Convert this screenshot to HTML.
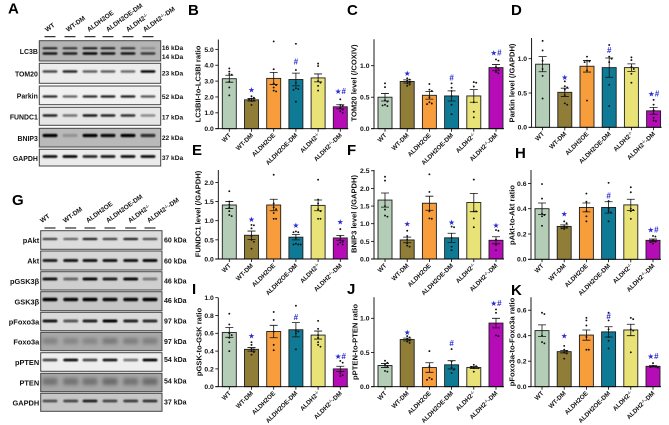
<!DOCTYPE html>
<html lang="en">
<head>
<meta charset="utf-8">
<title>Western blots and quantification</title>
<style>
html,body{margin:0;padding:0;background:#fff;width:669px;height:425px;overflow:hidden}
svg{display:block;font-family:"Liberation Sans",sans-serif}
</style>
</head>
<body>
<svg id="fig" xmlns="http://www.w3.org/2000/svg" width="669" height="425" viewBox="0 0 669 425">
  <defs>
    <filter id="blur" x="-30%" y="-150%" width="160%" height="400%"><feGaussianBlur stdDeviation="0.7"/></filter>
    <filter id="blur-wide" x="-30%" y="-150%" width="160%" height="400%"><feGaussianBlur stdDeviation="1.8"/></filter>
  </defs>
  <rect width="669" height="425" fill="#fff"/>
</svg>
<script>
const categories = ['WT','WT-DM','ALDH2OE','ALDH2OE-DM','ALDH2^-/-^','ALDH2^-/-^-DM'];
const barColors = ['#b3cdb6','#8f7d38','#f79d3c','#0f7a96','#e9e277','#b50cb8'];

const bTicks = ['0.0','1.0','2.0','3.0','4.0','5.0'];
const bValues = [3.15,1.82,3.17,3.1,3.2,1.38];
const bErrors = [0.22,0.08,0.38,0.4,0.25,0.13];
const bPoints = [[3.8,3.6,3.45,3.4,2.95,2.6,2.1],[2.05,1.95,1.9,1.85,1.8,1.75,1.5],[5.5,3.75,2.85,2.75,2.6,2.4,2.35],[5.35,3.7,2.9,2.55,2.5,2.45,1.7],[4.1,3.95,3.0,2.9,2.7,2.4],[1.85,1.5,1.45,1.3,1.2,1.1,1.0]];
const bMarks = ['','*','','#','','*#'];
const bMarkLevels = [0,2.44,0,4.2,0,2.35];

const cTicks = ['0.0','0.5','1.0'];
const cValues = [0.5,0.75,0.53,0.52,0.52,0.97];
const cErrors = [0.06,0.025,0.06,0.08,0.1,0.05];
const cPoints = [[0.72,0.66,0.45,0.43,0.38,0.36,0.37],[0.8,0.78,0.76,0.74,0.72,0.7,0.68],[0.71,0.62,0.6,0.5,0.42,0.4,0.39],[0.72,0.65,0.6,0.52,0.38,0.23],[0.74,0.73,0.67,0.42,0.27,0.18],[1.1,1.08,0.98,0.95,0.9,0.88]];
const cMarks = ['','*','','#','','*#'];
const cMarkLevels = [0,0.88,0,0.81,0,1.2];

const dTicks = ['0.0','0.5','1.0'];
const dValues = [0.92,0.51,0.89,0.87,0.87,0.24];
const dErrors = [0.11,0.06,0.085,0.14,0.055,0.05];
const dPoints = [[1.26,1.12,0.97,0.85,0.75,0.42],[0.67,0.6,0.58,0.55,0.47,0.35,0.33],[1.03,0.97,0.96,0.95,0.83,0.39],[1.2,1.03,1.0,0.95,0.62,0.31],[1.02,0.98,0.88,0.85,0.78,0.65],[0.4,0.33,0.25,0.2,0.14,0.1,0.09]];
const dMarks = ['','*','','#','','*#'];
const dMarkLevels = [0,0.73,0,1.12,0,0.49];

const eTicks = ['0.0','0.5','1.0','1.5','2.0'];
const eValues = [1.41,0.62,1.41,0.57,1.4,0.55];
const eErrors = [0.09,0.11,0.15,0.07,0.14,0.06];
const ePoints = [[1.77,1.5,1.42,1.35,1.25,1.15,1.12],[0.89,0.88,0.8,0.6,0.5,0.45,0.27],[2.2,1.45,1.35,1.3,1.2,1.05,1.05],[0.72,0.7,0.7,0.55,0.4,0.38,0.38,0.38],[2.07,1.55,1.45,1.3,1.25,1.05,1.05],[0.78,0.6,0.5,0.45,0.43,0.38,0.38]];
const eMarks = ['','*','','*','','*'];
const eMarkLevels = [0,1.03,0,0.88,0,0.97];

const fTicks = ['0.0','0.5','1.0','1.5','2.0','2.5'];
const fValues = [1.67,0.54,1.58,0.6,1.6,0.53];
const fErrors = [0.2,0.08,0.2,0.13,0.26,0.1];
const fPoints = [[2.33,2.22,1.5,1.4,1.23,1.2],[0.8,0.65,0.55,0.45,0.38,0.35],[2.4,1.9,1.35,1.15,1.14],[0.92,0.9,0.6,0.35,0.25],[2.25,1.35,1.35,1.15,0.9],[0.82,0.8,0.55,0.4,0.25]];
const fMarks = ['','*','','*','','*'];
const fMarkLevels = [0,0.99,0,1.03,0,0.95];

const hTicks = ['0.0','0.2','0.4','0.6'];
const hValues = [0.4,0.26,0.41,0.41,0.43,0.15];
const hErrors = [0.045,0.012,0.035,0.045,0.045,0.01];
const hPoints = [[0.595,0.48,0.36,0.35,0.34,0.265],[0.3,0.285,0.26,0.25,0.245,0.24],[0.52,0.455,0.38,0.34,0.3],[0.605,0.46,0.4,0.38,0.37,0.3],[0.57,0.53,0.4,0.39,0.38,0.32],[0.185,0.18,0.15,0.14,0.135,0.125]];
const hMarks = ['','*','','#','','*#'];
const hMarkLevels = [0,0.36,0,0.5,0,0.234];

const iTicks = ['0.0','0.2','0.4','0.6','0.8','1.0'];
const iValues = [0.61,0.42,0.62,0.64,0.58,0.2];
const iErrors = [0.055,0.02,0.07,0.08,0.045,0.03];
const iPoints = [[0.82,0.7,0.6,0.58,0.55,0.5,0.4],[0.5,0.47,0.43,0.42,0.4,0.39,0.36],[0.84,0.75,0.62,0.47,0.41],[0.91,0.63,0.62,0.6,0.42],[0.74,0.65,0.58,0.55,0.5,0.47,0.45],[0.29,0.27,0.15,0.13,0.12]];
const iMarks = ['','*','','#','','*#'];
const iMarkLevels = [0,0.57,0,0.78,0,0.34];

const jTicks = ['0.0','0.5','1.0'];
const jValues = [0.31,0.69,0.28,0.32,0.28,0.93];
const jErrors = [0.03,0.02,0.07,0.06,0.015,0.07];
const jPoints = [[0.38,0.35,0.32,0.3,0.23,0.22],[0.74,0.72,0.7,0.68,0.66,0.64],[0.52,0.3,0.13,0.11,0.1],[0.55,0.37,0.28,0.25,0.2],[0.32,0.3,0.29,0.28,0.27,0.22],[1.13,1.08,0.75,0.74]];
const jMarks = ['','*','','#','','*#'];
const jMarkLevels = [0,0.795,0,0.63,0,1.22];

const kTicks = ['0.0','0.2','0.4','0.6'];
const kValues = [0.44,0.275,0.405,0.43,0.445,0.16];
const kErrors = [0.045,0.01,0.04,0.04,0.045,0.005];
const kPoints = [[0.58,0.57,0.4,0.35,0.34],[0.32,0.29,0.28,0.27,0.26,0.22],[0.54,0.52,0.48,0.39,0.29,0.29],[0.58,0.52,0.45,0.39,0.36,0.3],[0.54,0.53,0.45,0.44,0.27],[0.185,0.165,0.16,0.155,0.15]];
const kMarks = ['','*','','#','','*#'];
const kMarkLevels = [0,0.4,0,0.55,0,0.237];

const laneLabels = ['WT','WT-DM','ALDH2OE','ALDH2OE-DM','ALDH2^-/-^','ALDH2^-/-^-DM'];

const panels = [
 {letter:'B',lx:188,ly:15,title:'LC3BII-to-LC3BI ratio',tx:198,ty:84,ax:218.3,base:128.7,top:39.5,unit:15.87,ticks:bTicks,values:bValues,errors:bErrors,points:bPoints,marks:bMarks,levels:bMarkLevels},
 {letter:'C',lx:347,ly:15,title:'TOM20 level (/COXIV)',tx:354,ty:83,ax:374,base:128.7,top:39.3,unit:63,ticks:cTicks,values:cValues,errors:cErrors,points:cPoints,marks:cMarks,levels:cMarkLevels},
 {letter:'D',lx:511,ly:15,title:'Parkin level (/GAPDH)',tx:512,ty:83,ax:531.6,base:127.3,top:38,unit:68.6,ticks:dTicks,values:dValues,errors:dErrors,points:dPoints,marks:dMarks,levels:dMarkLevels},
 {letter:'E',lx:192,ly:155,title:'FUNDC1 level (/GAPDH)',tx:198,ty:214,ax:218.3,base:259,top:170,unit:38.3,ticks:eTicks,values:eValues,errors:eErrors,points:ePoints,marks:eMarks,levels:eMarkLevels},
 {letter:'F',lx:347,ly:155,title:'BNIP3 level (/GAPDH)',tx:354,ty:214,ax:374,base:259,top:170,unit:35.3,ticks:fTicks,values:fValues,errors:fErrors,points:fPoints,marks:fMarks,levels:fMarkLevels},
 {letter:'H',lx:515,ly:158,title:'pAkt-to-Akt ratio',tx:512,ty:215,ax:531,base:259.3,top:170,unit:126.5,ticks:hTicks,values:hValues,errors:hErrors,points:hPoints,marks:hMarks,levels:hMarkLevels},
 {letter:'I',lx:192,ly:294,title:'pGSK-to-GSK ratio',tx:199,ty:342,ax:218.3,base:386.7,top:297.7,unit:89,ticks:iTicks,values:iValues,errors:iErrors,points:iPoints,marks:iMarks,levels:iMarkLevels},
 {letter:'J',lx:347,ly:294,title:'pPTEN-to-PTEN ratio',tx:355,ty:342,ax:374,base:386.7,top:297.3,unit:68.4,ticks:jTicks,values:jValues,errors:jErrors,points:jPoints,marks:jMarks,levels:jMarkLevels},
 {letter:'K',lx:511,ly:295,title:'pFoxo3a-to-Foxo3a ratio',tx:512,ty:342,ax:531,base:386.7,top:297.3,unit:127.5,ticks:kTicks,values:kValues,errors:kErrors,points:kPoints,marks:kMarks,levels:kMarkLevels}
];

const blotA = {letter:'A',lx:8,ly:13.5,x0:39.3,x1:160.7,nameSize:6.9,kdaSize:6.6,kdaGap:1.2,lanes:[50,70,90,108,128,148],labelStarts:[47,68,89,108,128,145],dashY:36.7,labelY:32,rows:[
 {name:'LC3B',y0:40.7,y1:61,bg:'#b4b4b4',kda:[['16 kDa',47.7],['14 kDa',56.7]],bands:[{c:48.3,h:2,v:[.85,.75,.9,.85,.75,.25]},{c:53.5,h:2.4,v:[.9,.85,1,.9,.9,.7]}]},
 {name:'TOM20',y0:63.3,y1:83.3,bg:'#ececec',kda:[['23 kDa',73]],bands:[{c:71.5,h:2.4,v:[.7,.85,.6,.6,.55,1]}]},
 {name:'Parkin',y0:86,y1:104.7,bg:'#f1f1f1',kda:[['52 kDa',96.5]],bands:[{c:96.5,h:2.2,v:[.85,.6,.85,.9,.9,.65]}]},
 {name:'FUNDC1',y0:107.3,y1:125.3,bg:'#e6e6e6',kda:[['17 kDa',117]],bands:[{c:115.5,h:2.4,v:[.85,.5,.9,.85,.8,.4]}]},
 {name:'BNIP3',y0:128.3,y1:147,bg:'#b9b9b9',kda:[['22 kDa',137.5]],bands:[{c:135.5,h:3.2,v:[1,.2,1,.95,1,.75]}]},
 {name:'GAPDH',y0:149.3,y1:166,bg:'#ebebeb',kda:[['37 kDa',157.5]],bands:[{c:156.5,h:2.8,v:[.95,1,.85,.9,.95,.95]}]}
]};

const blotG = {letter:'G',lx:12,ly:205,x0:40.7,x1:162,nameSize:7.4,kdaSize:7,kdaGap:2,lanes:[50,70.7,90,110,130.7,150],labelStarts:[42,65,88,108,130,149],dashY:228,labelY:223,rows:[
 {name:'pAkt',y0:230.7,y1:249.3,bg:'#dcdcdc',kda:[['60 kDa',240]],bands:[{c:239,h:2.2,v:[.7,.55,.85,.7,.85,.65]}]},
 {name:'Akt',y0:251,y1:270,bg:'#d6d6d6',kda:[['60 kDa',261]],bands:[{c:260.5,h:3,v:[.85,.9,.9,.9,.9,.95]}]},
 {name:'pGSK3β',y0:271.7,y1:290,bg:'#cfcfcf',kda:[['46 kDa',281]],bands:[{c:279,h:3,v:[.9,.5,.95,.85,.95,.4]}]},
 {name:'GSK3β',y0:291.7,y1:310.7,bg:'#c6c6c6',kda:[['46 kDa',300.5]],bands:[{c:299.5,h:3.4,v:[1,.95,1,.95,.95,1]}]},
 {name:'pFoxo3a',y0:312.3,y1:330.7,bg:'#dadada',kda:[['97 kDa',321]],bands:[{c:321,h:3,v:[.9,.6,.85,1,.85,.8]}]},
 {name:'Foxo3a',y0:332.3,y1:350.7,bg:'#a8a8a8',kda:[['97 kDa',341.5]],bands:[{c:341,h:6,v:[.22,.2,.2,.28,.25,.25]}]},
 {name:'pPTEN',y0:352.7,y1:371.3,bg:'#eeeeee',kda:[['54 kDa',359.5]],bands:[{c:360,h:2.8,v:[.7,.95,.7,.9,.5,1]}]},
 {name:'PTEN',y0:373.3,y1:391.7,bg:'#a6a6a6',kda:[['54 kDa',381]],bands:[{c:381.5,h:7,v:[.3,.3,.3,.35,.3,.35]}]},
 {name:'GAPDH',y0:393.3,y1:411.3,bg:'#c6c6c6',kda:[['37 kDa',402]],bands:[{c:401,h:2.8,v:[.6,.65,.85,.65,.7,.75]}]}
]};

const svgNS = 'http://www.w3.org/2000/svg';
const fig = document.getElementById('fig');
function mk(tag, attrs, parent){
  const n = document.createElementNS(svgNS, tag);
  for (const k in attrs) n.setAttribute(k, attrs[k]);
  parent.appendChild(n);
  return n;
}
function fillLabel(t, str, sup){
  const parts = str.split('^');
  parts.forEach((p, i) => {
    if (!p) return;
    const s = mk('tspan', i === 1 ? {'font-size':sup, dy:-2} : (i === 2 ? {dy:2} : {}), t);
    s.textContent = p;
  });
}
function swarm(vals, cx, y){
  const placed = [];
  return vals.map(v => {
    const py = y(v);
    let dx = 0, step = 0;
    const hit = d => placed.some(p => Math.hypot(p[0] - d, p[1] - py) < 2.3);
    while (hit(dx) && step < 20) { step++; dx = (step % 2 ? 1 : -1) * Math.ceil(step / 2) * 2.4; }
    placed.push([dx, py]);
    return [cx + dx, py];
  });
}

panels.forEach(p => {
  const g = mk('g', {}, fig);
  
  
  const y = v => p.base - v * p.unit;
  const x = i => p.ax + 11 + i * 22.2;
  const xEnd = x(5) + 8;

  const letter = mk('text', {x:p.lx, y:p.ly, 'font-size':15, 'font-weight':'bold', fill:'#000'}, g);
  
  
  letter.textContent = p.letter;

  const title = mk('text', {x:0, y:0, transform:`translate(${p.tx + 2.5},${p.ty}) rotate(-90)`, 'text-anchor':'middle', 'font-size':7.6, 'font-weight':'bold', fill:'#111'}, g);
  
  
  title.textContent = p.title;

  p.values.forEach((v, i) => {
    const bar = mk('rect', {x:x(i) - 7, y:y(v), width:14, height:p.base - y(v), fill:barColors[i], stroke:'#1d1d1d', 'stroke-width':0.9}, g);
    
    
  });

  p.values.forEach((v, i) => {
    const e = p.errors[i];
    const d = `M${x(i)} ${y(v + e)}V${y(v - e)}M${x(i) - 4} ${y(v + e)}H${x(i) + 4}M${x(i) - 4} ${y(v - e)}H${x(i) + 4}`;
    const eb = mk('path', {d, fill:'none', stroke:'#111', 'stroke-width':0.8}, g);
    
    
  });

  p.points.forEach((vals, i) => {
    swarm(vals, x(i), y).forEach(pt => {
      const dot = mk('circle', {cx:pt[0], cy:pt[1], r:0.95, fill:'#111'}, g);
      
      
    });
  });

  p.marks.forEach((m, i) => {
    if (!m) return;
    const sig = mk('text', {x:x(i), y:y(p.levels[i]) + 2.6, 'text-anchor':'middle', 'font-size':8, 'font-weight':'bold', fill:'#2a2ad0'}, g);
    
    
    [...m].forEach(c => {
      const s = mk('tspan', c === '*' ? {'font-family':'"DejaVu Sans",sans-serif','font-size':7.5} : {}, sig);
      s.textContent = c === '*' ? '★' : c;
    });
  });

  const yAxis = mk('path', {d:`M${p.ax} ${p.top}V${p.base}`, stroke:'#000', 'stroke-width':0.9, fill:'none'}, g);
  
  
  const xAxis = mk('path', {d:`M${p.ax - 3} ${p.base}H${xEnd}`, stroke:'#000', 'stroke-width':0.9, fill:'none'}, g);
  
  

  p.ticks.forEach(t => {
    const v = Number(t);
    const tk = mk('path', {d:`M${p.ax - 3} ${y(v)}H${p.ax}`, stroke:'#000', 'stroke-width':0.8}, g);
    
    
    const lb = mk('text', {x:p.ax - 4.5, y:y(v) + 2.4, 'text-anchor':'end', 'font-size':6.8, 'font-weight':'bold', fill:'#111'}, g);
    
    
    lb.textContent = t;
  });

  categories.forEach((c, i) => {
    const tk = mk('path', {d:`M${x(i)} ${p.base}v3`, stroke:'#000', 'stroke-width':0.8}, g);
    
    
    const lb = mk('text', {x:0, y:0, transform:`translate(${x(i) + 2},${p.base + 7}) rotate(-45)`, 'text-anchor':'end', 'font-size':6.3, 'font-weight':'bold', fill:'#111'}, g);
    
    
    fillLabel(lb, c, 4);
  });
});

[blotA, blotG].forEach(b => {
  const g = mk('g', {}, fig);
  
  

  const letter = mk('text', {x:b.lx, y:b.ly, 'font-size':15, 'font-weight':'bold', fill:'#000'}, g);
  
  
  letter.textContent = b.letter;

  laneLabels.forEach((l, i) => {
    const dash = mk('path', {d:`M${b.lanes[i] - 5.5} ${b.dashY}h11`, stroke:'#000', 'stroke-width':1}, g);
    
    
    const t = mk('text', {x:0, y:0, transform:`translate(${b.labelStarts[i]},${b.labelY}) rotate(-36)`, 'font-size':6.5, 'font-weight':'bold', fill:'#111'}, g);
    
    
    fillLabel(t, l, 4);
  });

  b.rows.forEach(r => {
    const strip = mk('rect', {x:b.x0, y:r.y0, width:b.x1 - b.x0, height:r.y1 - r.y0, fill:r.bg, stroke:'#444', 'stroke-width':1}, g);
    
    
    r.bands.forEach(bd => {
      bd.v.forEach((o, i) => {
        const band = mk('rect', {x:b.lanes[i] - 7.5, y:bd.c - bd.h / 2, width:15, height:bd.h, rx:1.8, fill:'#000', opacity:o, filter:bd.h >= 5 ? 'url(#blur-wide)' : 'url(#blur)'}, g);
        
        
      });
    });
    const nm = mk('text', {x:b.x0 - 1.5, y:(r.y0 + r.y1) / 2 + 3.1, 'text-anchor':'end', 'font-size':b.nameSize, 'font-weight':'bold', fill:'#111'}, g);
    
    
    nm.textContent = r.name;
    r.kda.forEach(k => {
      const kd = mk('text', {x:b.x1 + b.kdaGap, y:k[1] + 2.4, 'font-size':b.kdaSize, 'font-weight':'bold', fill:'#111'}, g);
      
      
      kd.textContent = k[0];
    });
  });
});
</script>
</body>
</html>
